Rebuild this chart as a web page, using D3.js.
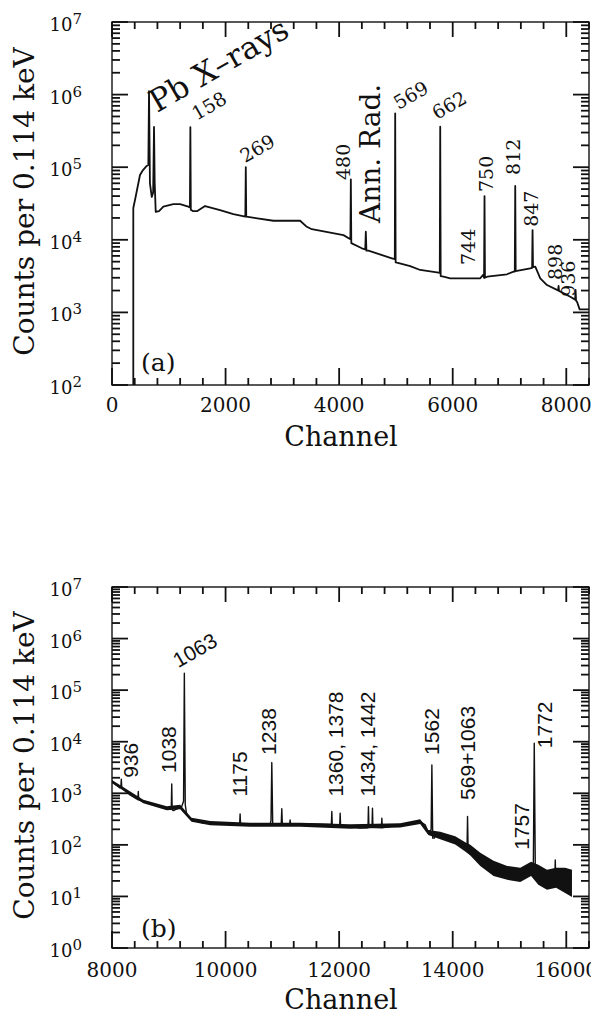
<!DOCTYPE html>
<html>
<head>
<meta charset="utf-8">
<script src="https://cdn.jsdelivr.net/npm/d3@7"></script>
<style>
  body { margin: 0; background: #fff; }
  svg text { font-family: "DejaVu Serif", serif; fill: #111; }
</style>
</head>
<body>
<div id="spectra"></div>
<script>
// Spectrum (a): [channel, counts]
var topSpectrum = [
  [375, 100], [375, 27400], [405, 35300], [493, 78200], [546, 91400], [611, 104000],
  [640, 107000], [652, 1120000], [668, 60000], [700, 38900], [725, 45000], [740, 358000],
  [752, 60000], [770, 24200], [828, 24900], [904, 28600], [1080, 31100], [1198, 31100],
  [1344, 28600], [1372, 28000], [1380, 355000], [1388, 26000], [1422, 24900], [1503, 24900],
  [1639, 29200], [1903, 25700], [2137, 22600], [2348, 20900], [2356, 99800], [2364, 20800],
  [2842, 18300], [3313, 18300], [3431, 15100], [3519, 14000], [4076, 11600], [4198, 10200],
  [4206, 68100], [4214, 9000], [4400, 7640], [4460, 7400], [4470, 12900], [4480, 7100],
  [4516, 7080], [4929, 5560], [4980, 5400], [4987, 552000], [4995, 4900], [5017, 4840],
  [5251, 4350], [5427, 3840], [5722, 3570], [5772, 3500], [5780, 361000], [5788, 3150],
  [5838, 3100], [5956, 2950], [6485, 2950], [6532, 3270], [6552, 3000], [6560, 40000],
  [6568, 3000], [6608, 3100], [6955, 3350], [7071, 3640], [7093, 3650], [7101, 55100],
  [7109, 3700], [7131, 3720], [7366, 4050], [7398, 4100], [7406, 13600], [7414, 4200],
  [7454, 4270], [7542, 2950], [7660, 2380], [7836, 2040], [7856, 2000], [7864, 2310],
  [7872, 1980], [8070, 1640], [8156, 1500], [8164, 2040], [8172, 1450], [8189, 1400],
  [8235, 1100], [8400, 1100]
];

// Spectrum (b): centre line [channel, counts]
var bottomSpectrum = [
  [8000, 1690], [8141, 1270], [8156, 1300], [8164, 1880], [8172, 1250], [8317, 931],
  [8455, 750], [8463, 1080], [8471, 745], [8552, 690], [8728, 596], [8964, 514],
  [9022, 514], [9044, 520], [9052, 1520], [9060, 480], [9080, 462], [9228, 552],
  [9260, 700], [9274, 213000], [9290, 600], [9316, 381], [9404, 305], [9609, 264],
  [10197, 255], [10248, 250], [10256, 399], [10264, 250], [10432, 244], [10784, 244],
  [10800, 300], [10814, 3940], [10830, 260], [10855, 244], [10980, 250], [10990, 500],
  [11000, 250], [11130, 260], [11137, 305], [11145, 255], [11489, 255], [11863, 250],
  [11871, 442], [11879, 240], [12010, 240], [12018, 411], [12026, 230], [12194, 226],
  [12370, 211], [12508, 215], [12516, 552], [12524, 230], [12579, 230], [12587, 514],
  [12595, 220], [12744, 215], [12752, 329], [12760, 215], [12899, 226], [13193, 255],
  [13427, 283], [13515, 244], [13573, 169], [13620, 200], [13633, 3550], [13648, 135],
  [13674, 135], [13721, 169], [14014, 125], [14220, 92.7], [14253, 95], [14261, 354],
  [14271, 85], [14296, 80], [14485, 51.2], [14719, 35.3], [14955, 28.3], [15189, 26.2],
  [15298, 30], [15306, 38], [15314, 30], [15335, 30.4], [15420, 40], [15436, 9360],
  [15454, 38], [15542, 28.3], [15660, 21], [15798, 22], [15806, 51], [15814, 22],
  [15836, 24.3], [15952, 22.6], [16100, 21]
];

// Spectrum (b): noise envelope [channel, low, high]
var bottomNoise = [
  [8000, 1560, 1800], [8552, 640, 750], [8964, 470, 560], [9200, 490, 600],
  [9400, 280, 335], [9730, 240, 290], [10430, 224, 268], [11313, 224, 268],
  [12194, 206, 250], [13075, 216, 262], [13427, 255, 315], [13570, 155, 195],
  [13780, 128, 180], [14044, 102, 147], [14220, 74, 112], [14310, 62, 100],
  [14485, 39, 70], [14719, 25, 49], [14960, 21, 39], [15190, 19, 36],
  [15380, 25, 47], [15507, 16.8, 41], [15660, 13.4, 33], [15820, 14.7, 36],
  [15980, 11.7, 36], [16100, 9.8, 33]
];

// Peak labels: [text, channel, counts, angle]
var topLabels = [
  ["Pb X\u2013rays", 793, 558000, -30], ["158", 1493, 437000, -30], ["269", 2344, 113000, -30],
  ["569", 5045, 614000, -30], ["662", 5722, 447000, -30], ["480", 4194, 66700, -90],
  ["Ann. Rad.", 4722, 17000, -90], ["744", 6396, 4500, -90], ["750", 6714, 45500, -90],
  ["812", 7189, 78200, -90], ["847", 7507, 15100, -90], ["898", 7924, 2790, -90],
  ["936", 8159, 1640, -90]
];
var bottomLabels = [
  ["1063", 9168, 265000, -30], ["936", 8463, 1990, -90], ["1038", 9128, 2480, -90],
  ["1175", 10374, 863, -90], ["1238", 10885, 5550, -90], ["1360, 1378", 12062, 863, -90],
  ["1434, 1442", 12634, 863, -90], ["1562", 13750, 5550, -90], ["569+1063", 14396, 745, -90],
  ["1757", 15336, 80, -90], ["1772", 15748, 7480, -90]
];

// Axis extents
var topXDomain = [0, 8400], topYDomain = [1e2, 1e7];
var bottomXDomain = [8000, 16400], bottomYDomain = [1e0, 1e7];

var svg = d3.select("#spectra")
    .append("svg")
    .attr("width", 591)
    .attr("height", 1012);

// Inward tick marks along one edge
function drawTicks(g, vals, isX, at, dir, len) {
    g.append("g").selectAll("line")
        .data(vals)
        .enter()
        .append("line")
        .attr("x1", function (d) { return isX ? d.pos : at; })
        .attr("x2", function (d) { return isX ? d.pos : at + dir * len(d); })
        .attr("y1", function (d) { return isX ? at : d.pos; })
        .attr("y2", function (d) { return isX ? at + dir * len(d) : d.pos; })
        .attr("stroke", "#111")
        .attr("stroke-width", 1.8);
}

function drawPanel(cfg) {
    var w = cfg.width, h = cfg.height;
    var g = svg.append("g")
        .attr("transform", "translate(" + cfg.left + "," + cfg.top + ")");

    var x = d3.scaleLinear().domain(cfg.xDomain).range([0, w]);
    var y = d3.scaleLog().domain(cfg.yDomain).range([h, 0]);

    g.append("clipPath").attr("id", "clip-" + cfg.id)
        .append("rect").attr("width", w).attr("height", h);

    // Tick positions from the scales
    var xTicks = d3.range(cfg.xDomain[0], cfg.xDomain[1] + 1, 400).map(function (v) {
        return {v: v, pos: x(v), major: (v % 2000) === 0};
    });
    var yTicks = y.ticks().map(function (v) {
        return {v: v, pos: y(v), major: Math.abs(Math.log10(v) - Math.round(Math.log10(v))) < 1e-6};
    });

    // Ticks first, all pointing inwards
    drawTicks(g, xTicks, true, h, -1, function (d) { return d.major ? 17 : 7; });
    drawTicks(g, xTicks, true, 0, 1, function (d) { return d.major ? 15 : 7; });
    drawTicks(g, yTicks, false, 0, 1, function (d) { return d.major ? 16 : 8; });
    drawTicks(g, yTicks, false, w, -1, function (d) { return d.major ? 16 : 8; });

    // Frame
    g.append("rect")
        .attr("width", w).attr("height", h)
        .attr("fill", "none")
        .attr("stroke", "#111")
        .attr("stroke-width", 1.4);

    var plot = g.append("g").attr("clip-path", "url(#clip-" + cfg.id + ")");

    // Noise band
    if (cfg.noise) {
        plot.append("path")
            .datum(cfg.noise)
            .attr("fill", "#111")
            .attr("d", d3.area()
                .x(function (d) { return x(d[0]); })
                .y0(function (d) { return y(d[1]); })
                .y1(function (d) { return y(d[2]); }));
    }

    // Spectrum line
    plot.append("path")
        .datum(cfg.spectrum)
        .attr("fill", "none")
        .attr("stroke", "#111")
        .attr("stroke-width", cfg.lineWidth)
        .attr("stroke-linejoin", "round")
        .attr("d", d3.line()
            .x(function (d) { return x(d[0]); })
            .y(function (d) { return y(d[1]); }));

    // x tick labels
    g.selectAll("text.xlab")
        .data(xTicks.filter(function (d) { return d.major; }))
        .enter()
        .append("text")
        .attr("class", "xlab")
        .attr("x", function (d) { return d.pos; })
        .attr("y", h + cfg.xPad)
        .attr("text-anchor", "middle")
        .style("font-size", "20px")
        .text(function (d) { return d3.format("d")(d.v); });

    // 10^n labels
    var ylab = g.selectAll("text.ylab")
        .data(yTicks.filter(function (d) { return d.major; }))
        .enter()
        .append("text")
        .attr("class", "ylab")
        .attr("x", -30)
        .attr("y", function (d) { return d.pos + 9; })
        .attr("text-anchor", "end")
        .style("font-size", "18px");
    ylab.append("tspan").text("10");
    ylab.append("tspan")
        .attr("dy", -7)
        .style("font-size", "15px")
        .text(function (d) { return Math.round(Math.log10(d.v)); });

    // Peak labels
    g.selectAll("text.peak")
        .data(cfg.labels)
        .enter()
        .append("text")
        .attr("class", "peak")
        .attr("transform", function (d) {
            return "translate(" + x(d[1]) + "," + y(d[2]) + ") rotate(" + d[3] + ")";
        })
        .style("font-family", cfg.labelFont)
        .style("font-size", function (d) {
            if (/^Pb/.test(d[0])) return "31px";
            return /[a-z]/i.test(d[0]) ? "28px" : cfg.labelSize;
        })
        .text(function (d) { return d[0]; });

    // Panel tag
    g.append("text")
        .attr("x", 29).attr("y", h - cfg.tagDrop)
        .style("font-size", "25px")
        .text(cfg.tag);

    // Axis titles
    g.append("text")
        .attr("x", 229).attr("y", h + 61)
        .attr("text-anchor", "middle")
        .style("font-size", "27px")
        .text("Channel");

    g.append("text")
        .attr("transform", "translate(" + (34 - cfg.left) + "," + (h / 2 - 2) + ") rotate(-90)")
        .attr("text-anchor", "middle")
        .style("font-size", "28px")
        .text("Counts per 0.114 keV");
}

drawPanel({
    id: "a", left: 112, top: 22, width: 477, height: 363,
    xDomain: topXDomain, yDomain: topYDomain,
    spectrum: topSpectrum, noise: null, lineWidth: 1.8,
    labels: topLabels, labelFont: "DejaVu Serif", labelSize: "19px",
    xPad: 27, tag: "(a)", tagDrop: 14
});

drawPanel({
    id: "b", left: 112, top: 587, width: 477, height: 361,
    xDomain: bottomXDomain, yDomain: bottomYDomain,
    spectrum: bottomSpectrum, noise: bottomNoise, lineWidth: 1.4,
    labels: bottomLabels, labelFont: "Liberation Sans", labelSize: "21px",
    xPad: 29, tag: "(b)", tagDrop: 11
});
</script>
</body>
</html>
